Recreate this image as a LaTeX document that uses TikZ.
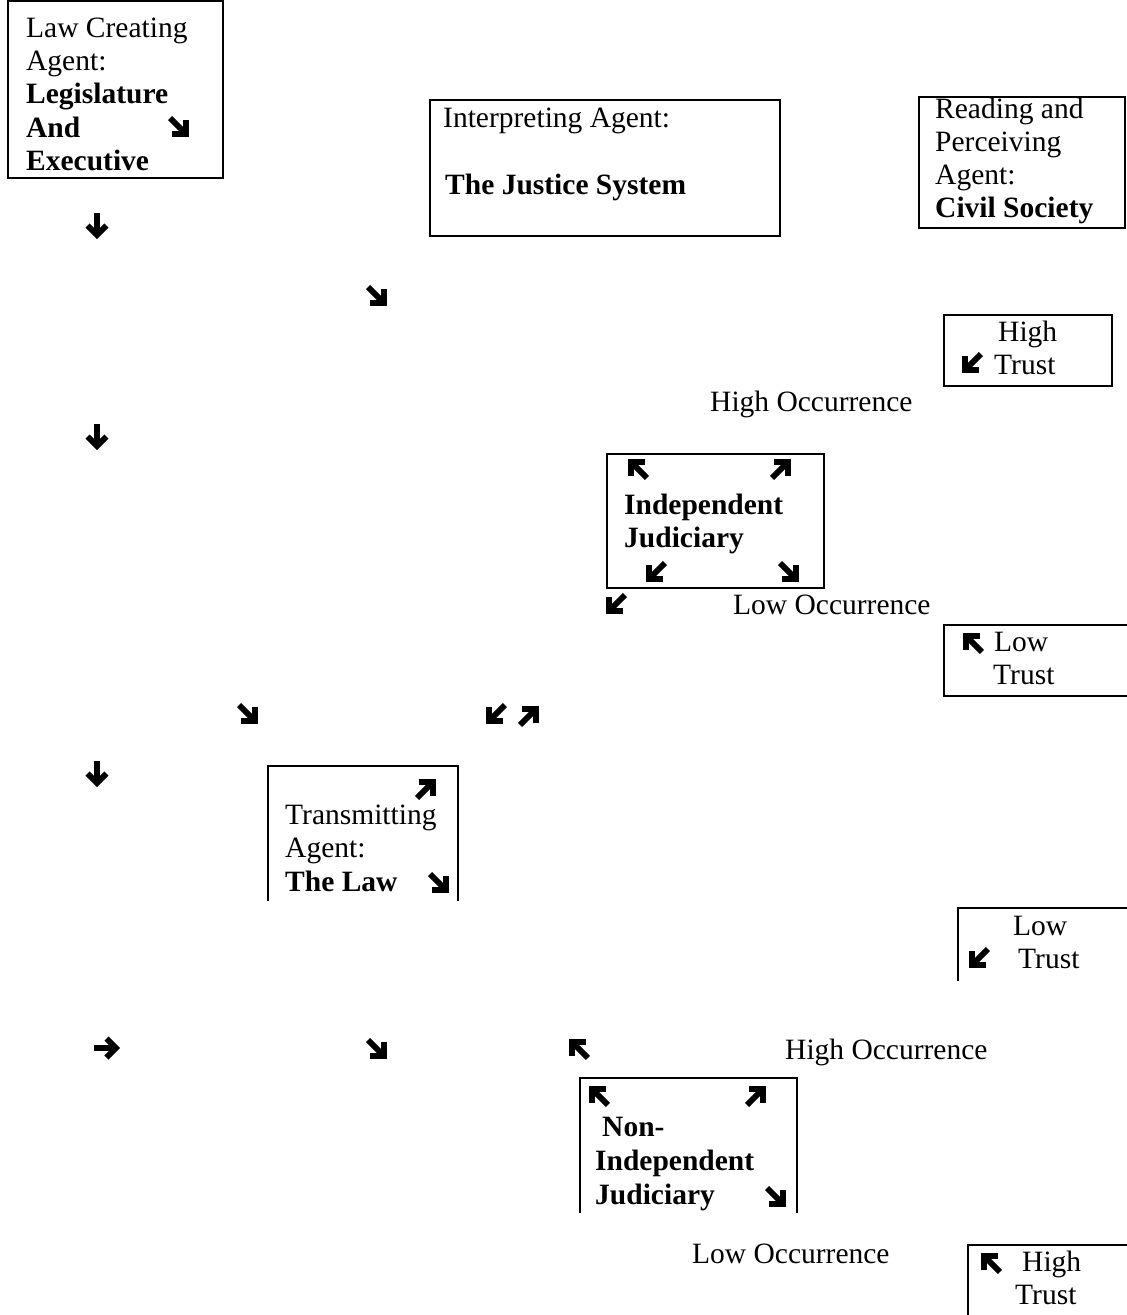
\documentclass[tikz,border=0pt]{standalone}
\usepackage{fontspec}
\setmainfont{Liberation Serif}
\usepackage{tikz}
\usetikzlibrary{positioning}

\begin{document}
\begin{tikzpicture}[x=1pt,y=-1pt,
 txt/.style={anchor=base west,inner sep=0pt,font=\fontsize{29.5}{33.5}\selectfont},
 btxt/.style={txt,font=\fontsize{29.5}{33.5}\selectfont\bfseries},
 frame/.style={line width=2.6pt},
 wing/.pic={\draw[line width=5.8pt] (-14pt,0pt)--(8pt,0pt);
            \draw[line width=5.8pt,miter limit=10] (-1.5pt,-9.5pt)--(8pt,0pt)--(-1.5pt,9.5pt);}]
 \useasboundingbox (0,0) rectangle (1127,1315);
 \draw[frame](8,1) rectangle (223,178);
 \draw[frame](430,100) rectangle (780,236);
 \draw[frame](919,97) rectangle (1125,228);
 \draw[frame](944,315) rectangle (1112,386);
 \draw[frame](607,454) rectangle (824,588);
 \draw[frame](1127,625)--(944,625)--(944,696)--(1127,696);
 \draw[frame](268,901)--(268,766)--(458,766)--(458,901);
 \draw[frame](1127,908)--(958,908)--(958,981);
 \draw[frame](580,1213)--(580,1078)--(797,1078)--(797,1213);
 \draw[frame](1127,1245)--(968,1245)--(968,1315);
 \node[txt](creatA) at (26,37) {Law Creating};
 \node[txt](creatB) at (26,70) {Agent:};
 \node[btxt](creatC) at (26,103) {Legislature};
 \node[btxt](creatD) at (26,137) {And};
 \node[btxt](creatE) at (26,170) {Executive};
 \node[txt](interpA) at (443,127) {Interpreting Agent:};
 \node[btxt](interpB) at (445,194) {The Justice System};
 \node[txt](readA) at (935,118) {Reading and};
 \node[txt](readB) at (935,151) {Perceiving};
 \node[txt](readC) at (935,184) {Agent:};
 \node[btxt](readD) at (935,217) {Civil Society};
 \node[txt](hitrustA) at (998,341) {High};
 \node[txt](hitrustB) at (994,374) {Trust};
 \node[txt](hiocc) at (710,411) {High Occurrence};
 \node[btxt](indepA) at (624,514) {Independent};
 \node[btxt](indepB) at (624,547) {Judiciary};
 \node[txt](loocc) at (733,614) {Low Occurrence};
 \node[txt](lotrustA) at (994,651) {Low};
 \node[txt](lotrustB) at (993,684) {Trust};
 \node[txt](transA) at (285,824) {Transmitting};
 \node[txt](transB) at (285,857) {Agent:};
 \node[btxt](transC) at (285,891) {The Law};
 \node[txt](lotrustC) at (1013,935) {Low};
 \node[txt](lotrustD) at (1018,968) {Trust};
 \node[txt](hiocc2) at (785,1059) {High Occurrence};
 \node[btxt](nonindepA) at (602,1136) {Non-};
 \node[btxt](nonindepB) at (595,1170) {Independent};
 \node[btxt](nonindepC) at (595,1204) {Judiciary};
 \node[txt](loocc2) at (692,1263) {Low Occurrence};
 \node[txt](hitrustC) at (1022,1271) {High};
 \node[txt](hitrustD) at (1015,1304) {Trust};
 \pic[rotate=-45] at (180,128) {wing};
 \pic[rotate=-90] at (97,227) {wing};
 \pic[rotate=-45] at (378,297) {wing};
 \pic[rotate=-135] at (971,364) {wing};
 \pic[rotate=-90] at (97,438) {wing};
 \pic[rotate=135] at (637,468) {wing};
 \pic[rotate=45] at (782,468) {wing};
 \pic[rotate=-135] at (655,573) {wing};
 \pic[rotate=-45] at (790,573) {wing};
 \pic[rotate=-135] at (615,605) {wing};
 \pic[rotate=135] at (972,642) {wing};
 \pic[rotate=-45] at (249,715) {wing};
 \pic[rotate=-135] at (495,715) {wing};
 \pic[rotate=45] at (530,715) {wing};
 \pic[rotate=-90] at (97,775) {wing};
 \pic[rotate=45] at (427,788) {wing};
 \pic[rotate=-45] at (440,884) {wing};
 \pic[rotate=-135] at (978,959) {wing};
 \pic at (108,1048) {wing};
 \pic[rotate=-45] at (378,1050) {wing};
 \pic[rotate=135] at (578,1048) {wing};
 \pic[rotate=135] at (598,1095) {wing};
 \pic[rotate=45] at (757,1095) {wing};
 \pic[rotate=-45] at (777,1198) {wing};
 \pic[rotate=135] at (990,1262) {wing};
\end{tikzpicture}
\end{document}
